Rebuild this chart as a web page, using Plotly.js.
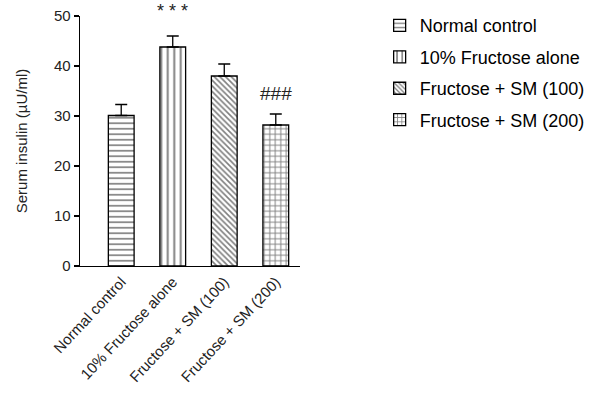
<!DOCTYPE html>
<html>
<head>
<meta charset="utf-8">
<script src="https://cdn.plot.ly/plotly-3.0.1.min.js"></script>
<style>html,body{margin:0;padding:0;background:#fff;}#chart{width:605px;height:396px;}</style>
</head>
<body>
<div id="chart"></div>
<script>
var categories = ["Normal control", "10% Fructose alone", "Fructose + SM (100)", "Fructose + SM (200)"];
var tickLabels = ["Normal control", "10% Fructose alone", "Fructose + SM (100)", "Fructose + SM (200)"];
var legendNames = ["Normal control", "10% Fructose alone", "Fructose + SM (100)", "Fructose + SM (200)"];
var means = [30.1, 43.8, 38.0, 28.2];
var sems = [2.2, 2.2, 2.4, 2.2];
var marks = ["", "* * *", "", "###"];
var markY = [0, 51.2, 0, 34.6];

var patterns = [
  {shape: "-", size: 5.5, solidity: 0.3},
  {shape: "|", size: 6.5, solidity: 0.3},
  {shape: "\\", size: 4, solidity: 0.4},
  {shape: "+", size: 5.5, solidity: 0.32}
];

var traces = categories.map(function (c, i) {
  return {
    type: "bar",
    x: [c],
    y: [means[i]],
    name: legendNames[i],
    legendgroup: "g" + i,
    width: 0.5,
    marker: {
      color: "white",
      line: {color: "black", width: 1.3},
      pattern: {shape: patterns[i].shape, size: patterns[i].size, solidity: patterns[i].solidity,
                fgcolor: "black", bgcolor: "white", fillmode: "overlay"}
    },
    error_y: {type: "data", array: [sems[i]], arrayminus: [0], symmetric: false,
              color: "black", thickness: 1.3, width: 6}
  };
});

var annotations = [];
marks.forEach(function (m, i) {
  if (!m) return;
  var a = {x: categories[i], xref: "x", text: m, showarrow: false, yanchor: "middle",
           font: {family: "Liberation Sans, Arial", size: i === 1 ? 18 : 19, color: "#222"}};
  if (markY[i] > 50) {
    // above the axis range: place in paper space (axis top = paper 1)
    a.yref = "paper"; a.y = 1.02;
  } else {
    a.yref = "y"; a.y = markY[i];
  }
  annotations.push(a);
});

var layout = {
  width: 605, height: 396,
  margin: {l: 80, r: 305, t: 16, b: 130, autoexpand: false},
  paper_bgcolor: "white", plot_bgcolor: "white",
  font: {family: "Liberation Sans, Arial", color: "black"},
  barmode: "overlay",
  showlegend: true,
  legend: {x: 1.362, y: 1.035, xanchor: "left", yanchor: "top",
           font: {size: 18, color: "black"}, tracegroupgap: 5, itemwidth: 30},
  xaxis: {
    type: "category",
    categoryorder: "array", categoryarray: categories,
    tickvals: categories, ticktext: tickLabels,
    range: [-0.8, 3.47],
    showline: true, linecolor: "black", linewidth: 1.3,
    ticks: "", showgrid: false, zeroline: false,
    tickangle: -47,
    tickfont: {size: 15, color: "#222"}
  },
  yaxis: {
    range: [0, 50], dtick: 10, tick0: 0,
    showline: true, linecolor: "black", linewidth: 1.3,
    ticks: "outside", ticklen: 5, tickcolor: "black", tickwidth: 1.3,
    showgrid: false, zeroline: false,
    tickfont: {size: 15, color: "#222"},
    title: {text: "Serum insulin (µU/ml)", font: {size: 15, color: "#222"}, standoff: 22}
  },
  annotations: annotations
};

Plotly.newPlot("chart", traces, layout, {staticPlot: true, displayModeBar: false});
</script>
</body>
</html>
